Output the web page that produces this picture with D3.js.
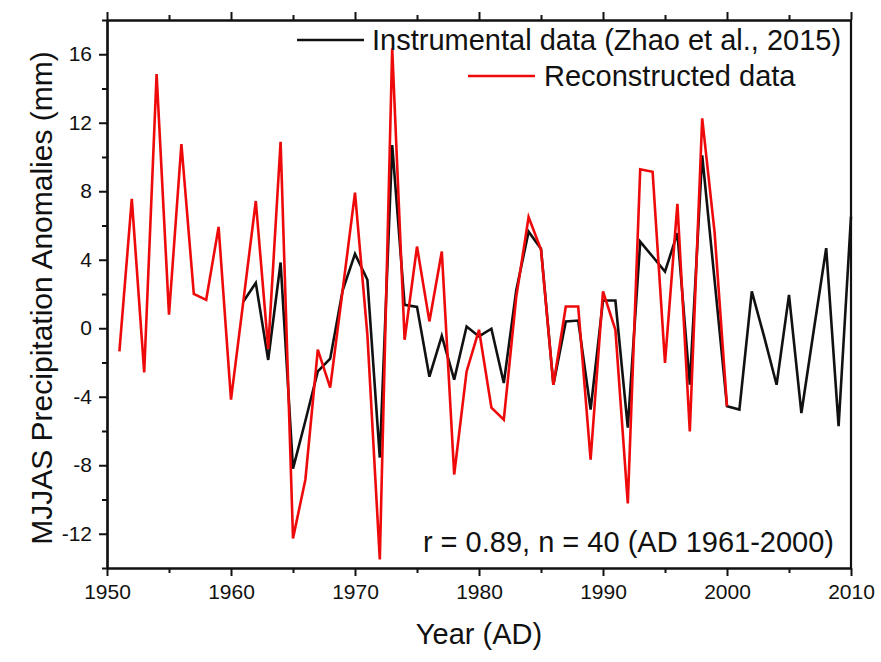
<!DOCTYPE html>
<html>
<head>
<meta charset="utf-8">
<script src="https://cdn.jsdelivr.net/npm/d3@7"></script>
<style>
  body { margin: 0; background: #fff; }
  svg text { font-family: "Liberation Sans", Arial, sans-serif; fill: #111; }
</style>
</head>
<body>
<svg id="chart" width="881" height="662"></svg>
<script>
// Reconstructed MJJAS precipitation anomalies, AD 1951-2000
const reconYears = d3.range(1951, 2001);
const reconValues = [
  -1.35, 7.55, -2.58, 14.84, 0.79, 10.76, 2.0, 1.66, 5.92, -4.17,
  1.6, 7.43, -1.2, 10.89, -12.27, -8.83, -1.25, -3.47, 2.2, 7.92,
  -0.4, -13.5, 16.35, -0.67, 4.77, 0.4, 4.48, -8.54, -2.52, -0.09,
  -4.64, -5.34, 1.8, 6.5, 4.6, -3.3, 1.27, 1.27, -7.67, 2.15,
  -0.09, -10.23, 9.28, 9.14, -2.03, 7.26, -6.02, 12.26, 5.6, -4.56
];

// Instrumental data (Zhao et al., 2015), AD 1961-2010
const instrYears = d3.range(1961, 2011);
const instrValues = [
  1.56, 2.65, -1.85, 3.84, -8.2, -5.4, -2.52, -1.78, 2.2, 4.34,
  2.83, -7.55, 10.7, 1.37, 1.25, -2.83, -0.44, -3.0, 0.1, -0.48,
  -0.03, -3.2, 2.2, 5.64, 4.65, -3.3, 0.4, 0.45, -4.75, 1.62,
  1.62, -5.8, 5.06, 4.19, 3.31, 5.55, -3.3, 10.1, 2.8, -4.56,
  -4.75, 2.15, -0.5, -3.3, 1.95, -4.95, -0.1, 4.68, -5.72, 6.52
];

const xMajorTicks = [1950, 1960, 1970, 1980, 1990, 2000, 2010];
const xMinorTicks = [1955, 1965, 1975, 1985, 1995, 2005];
const yMajorTicks = [-12, -8, -4, 0, 4, 8, 12, 16];
const yMinorTicks = [-14, -10, -6, -2, 2, 6, 10, 14, 18];

const svg = d3.select("#chart");
const margin = {top: 20, right: 30, bottom: 94, left: 107};
const width = 881 - margin.left - margin.right;
const height = 662 - margin.top - margin.bottom;

const g = svg.append("g").attr("transform", `translate(${margin.left},${margin.top})`);

const x = d3.scaleLinear().domain([1950, 2010]).range([0, width]);
const y = d3.scaleLinear().domain([-14, 18]).range([height, 0]);

// Lines
const line = d3.line().x(d => x(d[0])).y(d => y(d[1]));

g.append("path")
  .datum(instrYears.map((yr, i) => [yr, instrValues[i]]))
  .attr("fill", "none")
  .attr("stroke", "#111")
  .attr("stroke-width", 2.6)
  .attr("d", line);

g.append("path")
  .datum(reconYears.map((yr, i) => [yr, reconValues[i]]))
  .attr("fill", "none")
  .attr("stroke", "#ee0a0a")
  .attr("stroke-width", 2.6)
  .attr("d", line);

// Axes: bottom and left with labels, top with ticks only, right plain
function styleAxis(sel) {
  sel.select(".domain").attr("stroke", "#111").attr("stroke-width", 2.2);
  sel.selectAll(".tick line").attr("stroke", "#111").attr("stroke-width", 2);
}

const bottomAxis = g.append("g").attr("transform", `translate(0,${height})`)
  .call(d3.axisBottom(x).tickValues(xMajorTicks).tickFormat(d3.format("d")).tickSize(8).tickSizeOuter(0).tickPadding(8));
bottomAxis.call(styleAxis);
bottomAxis.selectAll("text").style("font-size", "21px");
g.append("g").attr("transform", `translate(0,${height})`)
  .call(d3.axisBottom(x).tickValues(xMinorTicks).tickFormat("").tickSize(5).tickSizeOuter(0))
  .call(styleAxis);

g.append("g")
  .call(d3.axisTop(x).tickValues(xMajorTicks).tickFormat("").tickSize(8).tickSizeOuter(0))
  .call(styleAxis);
g.append("g")
  .call(d3.axisTop(x).tickValues(xMinorTicks).tickFormat("").tickSize(5).tickSizeOuter(0))
  .call(styleAxis);

const leftAxis = g.append("g")
  .call(d3.axisLeft(y).tickValues(yMajorTicks).tickFormat(d => String(d)).tickSize(8).tickSizeOuter(0).tickPadding(7));
leftAxis.call(styleAxis);
leftAxis.selectAll("text").style("font-size", "21px");
g.append("g")
  .call(d3.axisLeft(y).tickValues(yMinorTicks).tickFormat("").tickSize(5).tickSizeOuter(0))
  .call(styleAxis);

g.append("line")
  .attr("x1", width).attr("x2", width)
  .attr("y1", 0).attr("y2", height)
  .attr("stroke", "#111").attr("stroke-width", 2.2);

// Legend
const legend = g.append("g");
legend.append("line")
  .attr("x1", 297 - margin.left).attr("x2", 364 - margin.left)
  .attr("y1", 40 - margin.top).attr("y2", 40 - margin.top)
  .attr("stroke", "#111").attr("stroke-width", 2.6);
legend.append("text")
  .attr("x", 372 - margin.left).attr("y", 50 - margin.top)
  .style("font-size", "29px")
  .text("Instrumental data (Zhao et al., 2015)");
legend.append("line")
  .attr("x1", 468 - margin.left).attr("x2", 535 - margin.left)
  .attr("y1", 76 - margin.top).attr("y2", 76 - margin.top)
  .attr("stroke", "#ee0a0a").attr("stroke-width", 2.6);
legend.append("text")
  .attr("x", 544 - margin.left).attr("y", 86 - margin.top)
  .style("font-size", "29px")
  .text("Reconstructed data");

// Statistic
g.append("text")
  .attr("x", 834 - margin.left).attr("y", 552 - margin.top)
  .style("text-anchor", "end")
  .style("font-size", "29px")
  .text("r = 0.89, n = 40 (AD 1961-2000)");

// Axis titles
svg.append("text")
  .attr("x", 479).attr("y", 644)
  .style("text-anchor", "middle")
  .style("font-size", "29px")
  .text("Year (AD)");

svg.append("text")
  .attr("transform", "rotate(-90)")
  .attr("x", -298).attr("y", 52)
  .style("text-anchor", "middle")
  .style("font-size", "30px")
  .text("MJJAS Precipitation Anomalies (mm)");
</script>
</body>
</html>
